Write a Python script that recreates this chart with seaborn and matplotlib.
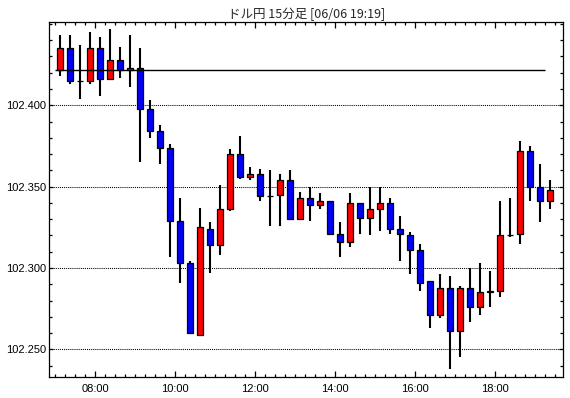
# USD/JPY 15-minute candlestick chart

import pandas as pd
import numpy as np
import seaborn as sns
import matplotlib.pyplot as plt
from matplotlib.ticker import MultipleLocator, FixedLocator, FuncFormatter


# =========================================
# DATA
# =========================================

times = [
    "07:00", "07:15", "07:30", "07:45", "08:00", "08:15", "08:30", "08:45",
    "09:00", "09:15", "09:30", "09:45", "10:00", "10:15", "10:30", "10:45",
    "11:00", "11:15", "11:30", "11:45", "12:00", "12:15", "12:30", "12:45",
    "13:00", "13:15", "13:30", "13:45", "14:00", "14:15", "14:30", "14:45",
    "15:00", "15:15", "15:30", "15:45", "16:00", "16:15", "16:30", "16:45",
    "17:00", "17:15", "17:30", "17:45", "18:00", "18:15", "18:30", "18:45",
    "19:00", "19:15",
]

opens = [
    102.422, 102.435, 102.415, 102.415, 102.435, 102.416, 102.428, 102.422,
    102.423, 102.398, 102.384, 102.374, 102.329, 102.303, 102.259, 102.324,
    102.314, 102.336, 102.370, 102.356, 102.358, 102.344, 102.345, 102.354,
    102.330, 102.343, 102.339, 102.341, 102.321, 102.316, 102.340, 102.331,
    102.336, 102.340, 102.324, 102.320, 102.311, 102.292, 102.271, 102.288,
    102.261, 102.288, 102.276, 102.285, 102.286, 102.320, 102.321, 102.372,
    102.350, 102.341,
]

highs = [
    102.443, 102.443, 102.437, 102.445, 102.442, 102.447, 102.436, 102.443,
    102.435, 102.403, 102.388, 102.376, 102.343, 102.304, 102.337, 102.328,
    102.351, 102.373, 102.381, 102.362, 102.361, 102.360, 102.358, 102.360,
    102.347, 102.350, 102.346, 102.341, 102.328, 102.346, 102.340, 102.350,
    102.350, 102.343, 102.332, 102.322, 102.315, 102.292, 102.296, 102.295,
    102.289, 102.300, 102.303, 102.298, 102.341, 102.343, 102.378, 102.375,
    102.364, 102.354,
]

lows = [
    102.418, 102.413, 102.404, 102.413, 102.406, 102.416, 102.417, 102.411,
    102.365, 102.380, 102.364, 102.307, 102.291, 102.260, 102.259, 102.297,
    102.308, 102.335, 102.355, 102.354, 102.341, 102.326, 102.326, 102.330,
    102.330, 102.329, 102.336, 102.320, 102.307, 102.313, 102.321, 102.320,
    102.323, 102.321, 102.304, 102.296, 102.286, 102.263, 102.269, 102.238,
    102.245, 102.267, 102.271, 102.276, 102.282, 102.319, 102.315, 102.341,
    102.328, 102.336,
]

closes = [
    102.435, 102.415, 102.415, 102.435, 102.416, 102.428, 102.422, 102.423,
    102.398, 102.384, 102.374, 102.329, 102.303, 102.260, 102.325, 102.314,
    102.336, 102.370, 102.356, 102.358, 102.344, 102.344, 102.354, 102.330,
    102.343, 102.339, 102.341, 102.321, 102.316, 102.340, 102.331, 102.336,
    102.340, 102.324, 102.321, 102.311, 102.291, 102.271, 102.288, 102.261,
    102.288, 102.276, 102.285, 102.286, 102.320, 102.320, 102.372, 102.350,
    102.341, 102.348,
]

ref_level = 102.422
title = "ドル円 15分足 [06/06 19:19]"
tick_hours = ["08:00", "10:00", "12:00", "14:00", "16:00", "18:00"]
price_ticks = [102.250, 102.300, 102.350, 102.400]


# =========================================
# PREPARE
# =========================================

def to_minutes(s):
    h, m = s.split(":")
    return int(h) * 60 + int(m)


df = pd.DataFrame({
    "time": times,
    "open": opens,
    "high": highs,
    "low": lows,
    "close": closes,
})
df["start"] = df["time"].apply(to_minutes)
df["mid"] = df["start"] + 7.5
df["up"] = df["close"] >= df["open"]
df["color"] = np.where(df["up"], "#ff0000", "#0000ff")


# =========================================
# STYLE
# =========================================

sns.set_style("ticks")
plt.rcParams["font.family"] = ["Liberation Sans", "DejaVu Sans"]

fig = plt.figure(figsize=(5.7, 3.98), dpi=100)
ax = fig.add_axes([0.0868, 0.0528, 0.9009, 0.8919])
ax.set_facecolor("white")


# =========================================
# CANDLES
# =========================================

ax.vlines(df["mid"], df["low"], df["high"], color="black",
          linewidth=1.5, zorder=2)

ax.bar(df["mid"], df["close"] - df["open"], bottom=df["open"],
       width=8.5, color=df["color"], edgecolor="black",
       linewidth=0.9, zorder=3)

ax.hlines(ref_level, df["start"].iloc[0], df["start"].iloc[-1],
          color="black", linewidth=1.0, zorder=4)


# =========================================
# AXES
# =========================================

ax.set_xlim(411.75, 1182)
ax.set_ylim(102.2330, 102.4512)

ax.set_xticks([to_minutes(t) for t in tick_hours])
ax.set_xticklabels(tick_hours)
ax.xaxis.set_minor_locator(MultipleLocator(15))

ax.yaxis.set_major_locator(FixedLocator(price_ticks))
ax.yaxis.set_minor_locator(MultipleLocator(0.01))
ax.yaxis.set_major_formatter(FuncFormatter(lambda v, p: f"{v:.3f}"))

ax.tick_params(axis="both", which="both", direction="in",
               top=True, right=True, colors="black", labelsize=8)
ax.tick_params(axis="x", which="major", length=4, width=0.9, pad=5)
ax.tick_params(axis="x", which="minor", length=2.5, width=0.9)
ax.tick_params(axis="y", which="major", length=3, width=0.9, pad=2.5)
ax.tick_params(axis="y", which="minor", length=2.5, width=0.9)

ax.yaxis.grid(True, which="major", color="black",
              linestyle=(0, (1, 1)), linewidth=0.75)
ax.xaxis.grid(False)

for side in ax.spines.values():
    side.set_visible(True)
    side.set_color("black")
    side.set_linewidth(0.9)

ax.set_xlabel("")
ax.set_ylabel("")

ax.set_title(title, fontsize=9, pad=3,
             family=["Noto Sans CJK JP", "DejaVu Sans"])

fig.savefig("out.png", dpi=100, facecolor="white")
